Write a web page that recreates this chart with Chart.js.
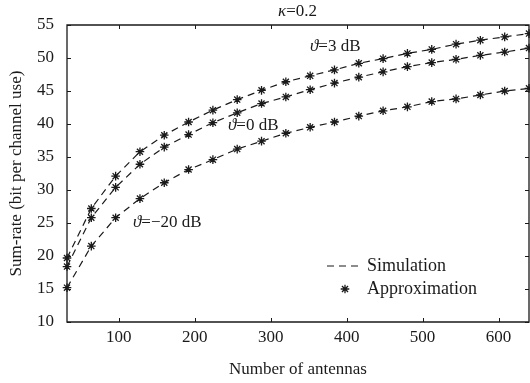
<!DOCTYPE html>
<html>
<head>
<meta charset="utf-8">
<script src="https://cdn.jsdelivr.net/npm/chart.js@4.4.1/dist/chart.umd.min.js"></script>
<style>
  html, body { margin: 0; padding: 0; background: #fff; }
  #wrap { width: 530px; height: 383px; }
</style>
</head>
<body>
<div id="wrap"><canvas id="c"></canvas></div>
<script>
// number of antennas
const antennas = [32, 64, 96, 128, 160, 192, 224, 256, 288, 320, 352, 384, 416, 448, 480, 512, 544, 576, 608, 640];
// sum-rate
const rate3dB = [19.7, 27.2, 32.1, 35.8, 38.3, 40.3, 42.1, 43.7, 45.1, 46.4, 47.3, 48.2, 49.2, 49.9, 50.7, 51.3, 52.1, 52.7, 53.2, 53.7];
const rate0dB = [18.4, 25.8, 30.4, 33.9, 36.5, 38.4, 40.2, 41.7, 43.1, 44.1, 45.2, 46.2, 47.1, 47.9, 48.7, 49.3, 49.8, 50.4, 50.9, 51.5];
const rateM20dB = [15.2, 21.5, 25.8, 28.7, 31.1, 33.1, 34.6, 36.2, 37.4, 38.6, 39.5, 40.3, 41.2, 42.0, 42.6, 43.4, 43.8, 44.4, 45.0, 45.4];
const xTicks = [100, 200, 300, 400, 500, 600];

const ink = '#1a1a1a';
const serif = '"Liberation Serif", "Times New Roman", serif';

const pts = arr => arr.map((v, i) => ({ x: antennas[i], y: v }));

function simLine(arr) {
  return { data: pts(arr), showLine: true, borderColor: ink, borderWidth: 1.2, borderDash: [7, 5],
           pointRadius: 0, fill: false, tension: 0, clip: false };
}
function approx(arr) {
  return { data: pts(arr), showLine: false, pointStyle: 'star', pointRadius: 4.3,
           pointBorderColor: ink, pointBorderWidth: 1.3, borderColor: ink, clip: false };
}

// mixed italic / upright text helper
function mixed(ctx, x, y, parts) {
  let cx = x;
  parts.forEach(([txt, it]) => {
    ctx.font = (it ? 'italic ' : '') + '17px ' + serif;
    ctx.fillText(txt, cx, y);
    cx += ctx.measureText(txt).width;
  });
}

const decor = {
  id: 'decor',
  afterDraw(chart) {
    const ctx = chart.ctx;
    const a = chart.chartArea;
    const xs = chart.scales.x, ys = chart.scales.y;
    ctx.save();
    ctx.strokeStyle = ink;
    ctx.lineWidth = 1.3;
    ctx.setLineDash([]);
    ctx.beginPath();
    ctx.rect(a.left, a.top, a.right - a.left, a.bottom - a.top);
    ctx.stroke();
    ctx.lineWidth = 1;
    ctx.beginPath();
    xTicks.forEach(v => {
      const px = Math.round(xs.getPixelForValue(v)) + 0.5;
      ctx.moveTo(px, a.bottom); ctx.lineTo(px, a.bottom - 4);
      ctx.moveTo(px, a.top); ctx.lineTo(px, a.top + 4);
    });
    ys.ticks.forEach(t => {
      const py = Math.round(ys.getPixelForValue(t.value)) + 0.5;
      ctx.moveTo(a.left, py); ctx.lineTo(a.left + 4, py);
      ctx.moveTo(a.right, py); ctx.lineTo(a.right - 4, py);
    });
    ctx.stroke();

    ctx.fillStyle = ink;
    ctx.textBaseline = 'middle';
    ctx.textAlign = 'left';
    mixed(ctx, 278, 12, [['κ', true], ['=0.2', false]]);
    mixed(ctx, 310, 47, [['ϑ', true], ['=3 dB', false]]);
    mixed(ctx, 228, 126, [['ϑ', true], ['=0 dB', false]]);
    mixed(ctx, 133, 223, [['ϑ', true], ['=−20 dB', false]]);

    // legend
    ctx.beginPath();
    ctx.setLineDash([7, 5]);
    ctx.lineWidth = 1.2;
    ctx.moveTo(327, 266); ctx.lineTo(363, 266);
    ctx.stroke();
    ctx.setLineDash([]);
    ctx.font = '18px ' + serif;
    ctx.fillText('Simulation', 367, 266);
    ctx.fillText('Approximation', 367, 289);
    ctx.lineWidth = 1.3;
    Chart.helpers.drawPoint(ctx, { pointStyle: 'star', radius: 4.3, rotation: 0, borderWidth: 1.3 }, 345, 289);
    ctx.restore();
  }
};

new Chart(document.getElementById('c'), {
  type: 'scatter',
  data: {
    datasets: [
      simLine(rate3dB), simLine(rate0dB), simLine(rateM20dB),
      approx(rate3dB), approx(rate0dB), approx(rateM20dB)
    ]
  },
  options: {
    responsive: true,
    maintainAspectRatio: false,
    animation: false,
    layout: { autoPadding: false, padding: { top: 25, right: 1, left: 0, bottom: 0 } },
    plugins: { legend: { display: false }, tooltip: { enabled: false } },
    scales: {
      x: {
        type: 'linear', min: 32, max: 640,
        afterBuildTicks: s => { s.ticks = xTicks.map(v => ({ value: v })); },
        afterFit: s => { s.height = 61; s.paddingLeft = 0; s.paddingRight = 0; },
        grid: { display: false }, border: { display: false },
        ticks: { color: ink, font: { family: serif, size: 17 }, padding: -3, maxRotation: 0 },
        title: { display: true, text: 'Number of antennas', color: ink,
                 font: { family: serif, size: 17 }, padding: { top: 0, bottom: 3 } }
      },
      y: {
        min: 10, max: 55,
        afterFit: s => { s.width = 67; s.paddingTop = 0; s.paddingBottom = 0; },
        grid: { display: false }, border: { display: false },
        ticks: { stepSize: 5, color: ink, font: { family: serif, size: 17 }, padding: 5 },
        title: { display: true, text: 'Sum-rate (bit per channel use)', color: ink,
                 font: { family: serif, size: 17 }, padding: { top: 6, bottom: 0 } }
      }
    }
  },
  plugins: [decor]
});
</script>
</body>
</html>
